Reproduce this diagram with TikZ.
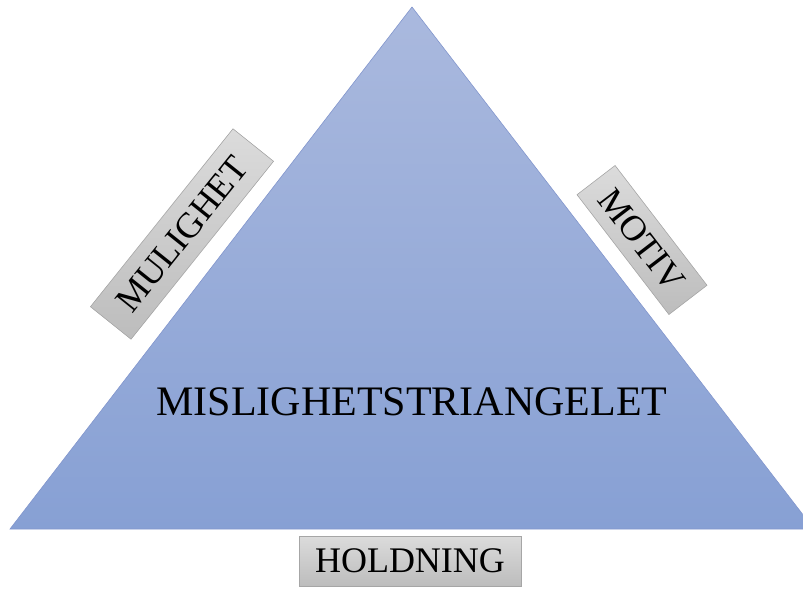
\documentclass[tikz,border=0pt]{standalone}
\usepackage{fontspec}
\setmainfont{Liberation Serif}
\begin{document}
\begin{tikzpicture}[x=1pt,y=-1pt,
  lbl/.style={draw=black!35, line width=0.6pt, top color=black!14, bottom color=black!26,
    font=\fontsize{36}{36}\selectfont, inner sep=0pt, minimum height=52pt, text depth=0pt, anchor=center},
]
\useasboundingbox (0,0) rectangle (803,589);
\clip (0,0) rectangle (803,589);
\coordinate (apex) at (412,7);
\coordinate (bl) at (10,529);
\coordinate (br) at (814,529);
\shade[top color={rgb,255:red,170;green,185;blue,222}, bottom color={rgb,255:red,135;green,160;blue,212}]
  (apex) -- (bl) -- (br) -- cycle;
\draw[draw={rgb,255:red,130;green,150;blue,205}, line width=0.6pt] (apex) -- (bl) -- (br) -- cycle;
\node[font=\fontsize{42}{42}\selectfont] (main) at (412,402) {MISLIGHETSTRIANGELET};
\node[lbl, rotate=51.3, minimum width=228pt] (mulighet) at (182,234) {MULIGHET};
\node[lbl, rotate=-52.5, minimum width=151pt, minimum height=48pt] (motiv) at (642,240) {MOTIV};
\node[lbl, minimum width=222pt, minimum height=50pt] (holdning) at (410,561) {HOLDNING};
\end{tikzpicture}
\end{document}
